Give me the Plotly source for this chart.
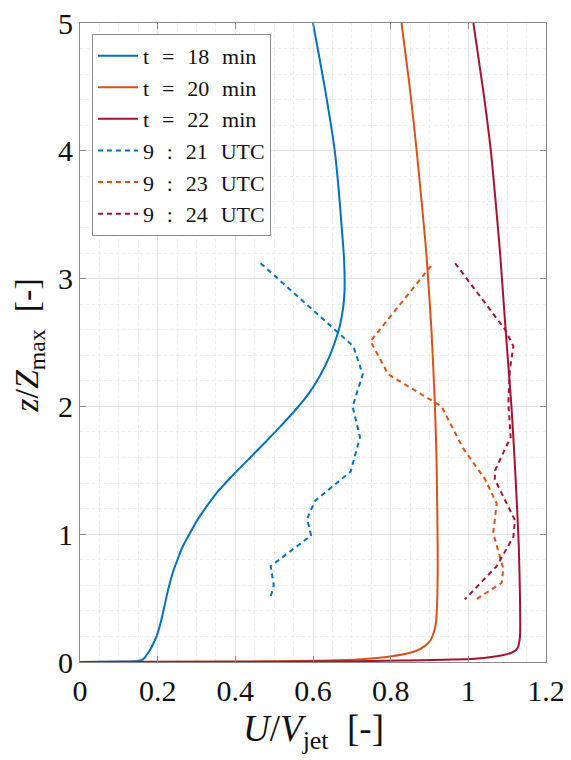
import plotly.graph_objects as go

# Simulation profiles (solid)
z_18 = [0, 0.003, 0.008, 0.02, 0.04, 0.07, 0.12, 0.2, 0.3, 0.39, 0.5, 0.59, 0.7, 0.8, 0.9, 0.98, 1.11, 1.2, 1.32, 1.45, 1.58, 1.71, 1.84, 1.97, 2.10, 2.23, 2.36, 2.5, 2.63, 2.76, 2.89, 3.15, 3.4, 3.7, 4.0, 4.5, 5.0]
u_18 = [0, 0.107, 0.15, 0.162, 0.168, 0.175, 0.185, 0.197, 0.207, 0.214, 0.222, 0.229, 0.239, 0.251, 0.264, 0.278, 0.302, 0.322, 0.351, 0.390, 0.432, 0.474, 0.515, 0.554, 0.589, 0.616, 0.638, 0.656, 0.669, 0.677, 0.681, 0.680, 0.674, 0.666, 0.656, 0.630, 0.600]

z_20 = [0, 0.004, 0.01, 0.02, 0.043, 0.086, 0.13, 0.172, 0.24, 0.315, 0.5, 0.7, 0.9, 1.2, 1.6, 2.0, 2.6, 3.15, 3.3, 4.0, 4.5, 5.0]
u_20 = [0, 0.45, 0.6, 0.714, 0.799, 0.865, 0.89, 0.903, 0.912, 0.917, 0.920, 0.921, 0.921, 0.920, 0.918, 0.914, 0.905, 0.893, 0.889, 0.867, 0.849, 0.828]

z_22 = [0, 0.003, 0.011, 0.026, 0.055, 0.08, 0.11, 0.2, 0.5, 0.9, 1.3, 1.7, 2.0, 2.6, 3.15, 3.3, 4.0, 4.5, 5.0]
u_22 = [0, 0.6, 0.827, 1.016, 1.091, 1.116, 1.127, 1.133, 1.133, 1.130, 1.124, 1.117, 1.111, 1.096, 1.083, 1.079, 1.058, 1.037, 1.013]

# Measured profiles (dashed)
z_921 = [3.12, 2.57, 2.47, 2.25, 2.00, 1.76, 1.49, 1.26, 1.12, 0.99, 0.75, 0.60, 0.49]
u_921 = [0.465, 0.669, 0.704, 0.728, 0.702, 0.721, 0.697, 0.605, 0.585, 0.595, 0.491, 0.499, 0.489]

z_923 = [3.10, 2.51, 2.25, 2.00, 1.67, 1.43, 1.24, 1.01, 0.73, 0.62, 0.49]
u_923 = [0.904, 0.748, 0.794, 0.931, 0.987, 1.043, 1.073, 1.064, 1.090, 1.086, 1.020]

z_924 = [3.12, 2.60, 2.47, 2.29, 2.03, 1.76, 1.50, 1.43, 1.11, 0.98, 0.75, 0.49]
u_924 = [0.966, 1.095, 1.116, 1.107, 1.103, 1.109, 1.069, 1.068, 1.120, 1.116, 1.073, 0.991]

x_ticks = [0, 0.2, 0.4, 0.6, 0.8, 1.0, 1.2]
x_tick_labels = ["0", "0.2", "0.4", "0.6", "0.8", "1", "1.2"]
y_ticks = [0, 1, 2, 3, 4, 5]

BLUE = "#0072BD"
ORANGE = "#D95319"
RED = "#A2142F"
FONT = "Liberation Serif"
NB = "\u00a0"
GAP = "\u2002\u200a"

fig = go.Figure()
solid = [(u_18, z_18, BLUE, "t = 18 min"), (u_20, z_20, ORANGE, "t = 20 min"), (u_22, z_22, RED, "t = 22 min")]
dashed = [(u_921, z_921, BLUE, "9 : 21 UTC"), (u_923, z_923, ORANGE, "9 : 23 UTC"), (u_924, z_924, RED, "9 : 24 UTC")]
for u, z, c, n in solid:
    fig.add_trace(go.Scatter(x=u, y=z, mode="lines", name=n.replace(" ", GAP),
                             line=dict(color=c, width=2, shape="spline", smoothing=0.6)))
for u, z, c, n in dashed:
    fig.add_trace(go.Scatter(x=u, y=z, mode="lines", name=n.replace(" ", GAP),
                             line=dict(color=c, width=2, dash="5px,4px")))

axis_common = dict(
    showline=True, linecolor="#8a8a8a", linewidth=1, mirror="ticks",
    ticks="inside", ticklen=6, tickcolor="#8a8a8a",
    showgrid=True, gridcolor="#e3e3e3", gridwidth=1, zeroline=False,
    tickfont=dict(family=FONT, size=30, color="#111"),
    automargin=False, ticklabeloverflow="allow",
)

# The page body adds an 8 px offset, so the figure is sized 8 px smaller.
fig.update_layout(
    width=563, height=752,
    margin=dict(l=72, r=25, t=15, b=98),
    paper_bgcolor="white", plot_bgcolor="white",
    font=dict(family=FONT, color="#111"),
    xaxis=dict(range=[0, 1.2], tickvals=x_ticks, ticktext=x_tick_labels,
               minor=dict(dtick=0.05, showgrid=True, gridcolor="#ececec", griddash="dot", ticks=""),
               ticklabelstandoff=2,
               **axis_common),
    yaxis=dict(range=[0, 5], tickvals=y_ticks,
               minor=dict(dtick=0.2, showgrid=True, gridcolor="#ececec", griddash="dot", ticks=""),
               ticklabelstandoff=0,
               **axis_common),
    legend=dict(x=0.0258, y=0.983, xanchor="left", yanchor="top",
                bgcolor="white", bordercolor="#8a8a8a", borderwidth=1,
                font=dict(family=FONT, size=22, color="#111"),
                tracegroupgap=0, itemwidth=40),
    showlegend=True,
    annotations=[
        dict(text="<i>U</i>" + "/<i>V</i><sub>jet</sub>" + NB * 2 + "[-]", xref="paper", yref="paper",
             x=0.5, y=-0.1095, xanchor="center", yanchor="middle", showarrow=False,
             font=dict(family=FONT, size=37, color="#111")),
        dict(text="<i>z</i>/<i>Z</i><sub>max</sub>" + NB * 2 + "[-]", xref="paper", yref="paper",
             x=-0.11, y=0.496, xanchor="center", yanchor="middle", showarrow=False, textangle=-90,
             font=dict(family=FONT, size=34, color="#111")),
    ],
)

fig.write_html("out.html")
